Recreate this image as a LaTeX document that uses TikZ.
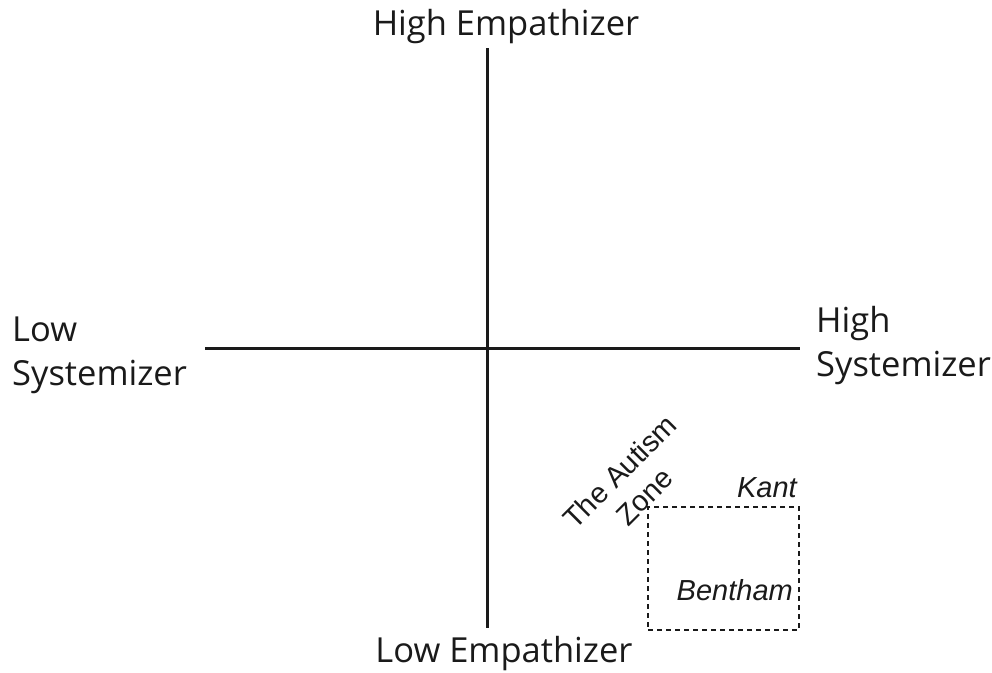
\documentclass[tikz,border=0pt]{standalone}
\usepackage{fontspec}
\setmainfont{Open Sans}
\newfontfamily\zonefont{Liberation Sans}
\usepackage{xcolor}
\definecolor{axis-black}{HTML}{1A1A1A}
\usepackage{tikz}
\tikzset{
    axislabel/.style={inner sep=0pt, text=axis-black, font=\fontsize{34.5}{44}\selectfont},
    zonelabel/.style={inner sep=0pt, text=axis-black, font=\zonefont\itshape\fontsize{29}{33}\selectfont}
}

\begin{document}
\begin{tikzpicture}[x=1pt, y=-1pt]

    % Frame
    \useasboundingbox (0, 0) rectangle (992, 672);

    % Axes
    \coordinate (top) at (487, 48);
    \coordinate (bottom) at (487, 628);
    \coordinate (left) at (205, 348);
    \coordinate (right) at (800, 348);
    \draw[axis-black, line width=3pt] (top) -- (bottom);
    \draw[axis-black, line width=3pt] (left) -- (right);

    % Axis labels
    \node[axislabel] (highemp) at (506, 27) {High Empathizer};
    \node[axislabel] (lowemp) at (504, 654) {Low Empathizer};
    \node[axislabel, anchor=west, align=left] (lowsys) at (12, 355) {Low\\Systemizer};
    \node[axislabel, anchor=west, align=left] (highsys) at (816, 346) {High\\Systemizer};

    % Autism zone
    \node[draw=axis-black, dashed, line width=1.3pt, dash pattern=on 5pt off 4pt,
          minimum width=151pt, minimum height=123pt] (zone) at (723.5, 568.5) {};
    \node[zonelabel, anchor=base east] (kant) at (797, 497) {Kant};
    \node[zonelabel, anchor=east] (bentham) at (793, 590) {Bentham};
    \node[zonelabel, font=\zonefont\fontsize{29}{35}\selectfont, align=center, rotate=45]
        (zonename) at (632, 484) {The Autism\\Zone};

\end{tikzpicture}
\end{document}
